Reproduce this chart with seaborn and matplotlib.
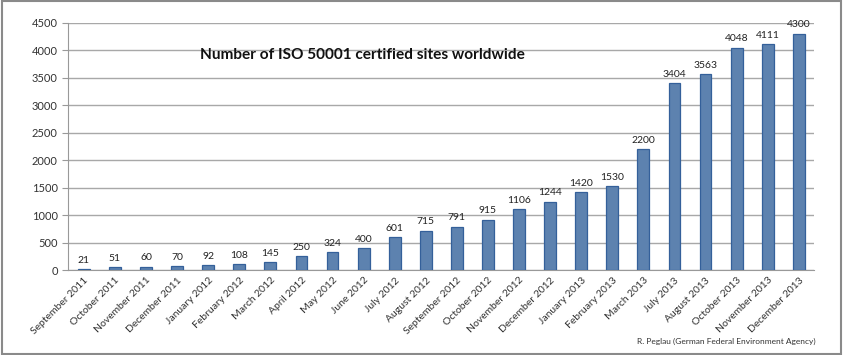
import numpy as np
import pandas as pd
import seaborn as sns
import matplotlib.pyplot as plt
from matplotlib.patches import Rectangle

months = ["September 2011", "October 2011", "November 2011", "December 2011",
          "January 2012", "February 2012", "March 2012", "April 2012", "May 2012",
          "June 2012", "July 2012", "August 2012", "September 2012", "October 2012",
          "November 2012", "December 2012", "January 2013", "February 2013",
          "March 2013", "July 2013", "August 2013", "October 2013",
          "November 2013", "December 2013"]
sites = [21, 51, 60, 70, 92, 108, 145, 250, 324, 400, 601, 715, 791, 915,
         1106, 1244, 1420, 1530, 2200, 3404, 3563, 4048, 4111, 4300]
yticks = [0, 500, 1000, 1500, 2000, 2500, 3000, 3500, 4000, 4500]

df = pd.DataFrame({"month": months, "sites": sites})

sns.set_style("white")
plt.rcParams["font.family"] = ["Lato", "DejaVu Sans"]

fig = plt.figure(figsize=(8.43, 3.55), dpi=100)
ax = fig.add_axes([0.081, 0.239, 0.885, 0.697])

sns.barplot(data=df, x="month", y="sites", color="#4f81bd", width=0.38,
            edgecolor="#34609a", linewidth=0.9, ax=ax, zorder=3)

for i, v in enumerate(sites):
    ax.text(i, v + 80, str(v), ha="center", va="bottom", fontsize=7.5, color="#222222")

ax.set_ylim(0, 4500)
ax.set_xlim(-0.5, len(months) - 0.5)
ax.set_yticks(yticks)
ax.set_yticklabels([str(t) for t in yticks], fontsize=8, color="#333333")
ax.yaxis.grid(True, color="#a8a8a8", linewidth=1, zorder=0)
ax.set_axisbelow(True)
ax.set_xticks(range(len(months)))
ax.set_xticklabels(months, rotation=45, ha="right", rotation_mode="anchor",
                   fontsize=7.5, color="#333333")
ax.tick_params(axis="x", length=0, pad=4)
ax.set_xticks(np.arange(-0.5, len(months), 1), minor=True)
ax.tick_params(axis="x", which="minor", length=4, color="#999999")
ax.tick_params(axis="y", length=4, color="#999999", left=True)
ax.set_xlabel("")
ax.set_ylabel("")
for s in ["top", "right"]:
    ax.spines[s].set_visible(False)
for s in ["left", "bottom"]:
    ax.spines[s].set_color("#999999")

ax.text(0.176, 0.855, "Number of ISO 50001 certified sites worldwide",
        transform=ax.transAxes, fontsize=11.1, fontweight="bold", color="#111111")

fig.text(0.967, 0.028, "R. Peglau (German Federal Environment Agency)",
         ha="right", va="bottom", fontsize=6, color="#333333")

fig.patches.append(Rectangle((0.002, 0.003), 0.996, 0.994, transform=fig.transFigure,
                             fill=False, edgecolor="#8a8a8a", linewidth=1.5))

fig.savefig("out.png", dpi=100)
